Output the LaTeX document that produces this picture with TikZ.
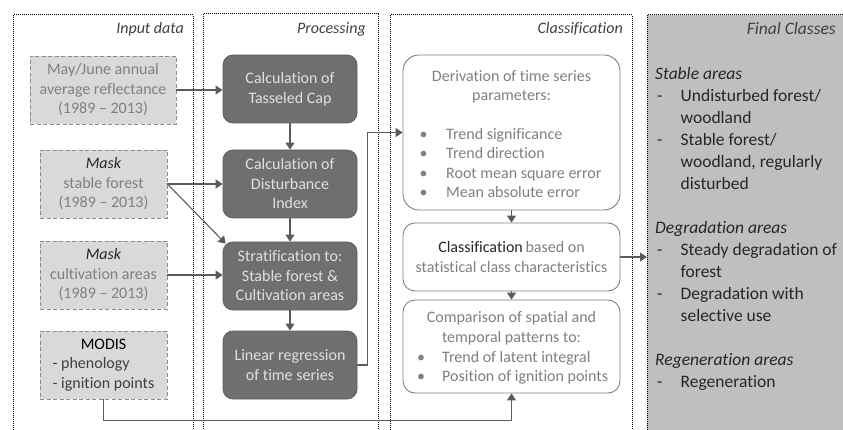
\documentclass[tikz,border=0pt]{standalone}
\usepackage{fontspec}
\setmainfont{Carlito}[Ligatures=NoCommon]
\usetikzlibrary{arrows.meta,calc}
\definecolor{inpfill}{HTML}{D9D9D9}
\definecolor{inpline}{HTML}{8C8C8C}
\definecolor{procfill}{HTML}{6F6F6F}
\definecolor{procdraw}{HTML}{5E5E5E}
\definecolor{proctext}{HTML}{E0E0E0}
\definecolor{greytext}{HTML}{808080}
\definecolor{darktext}{HTML}{262626}
\definecolor{midtext}{HTML}{404040}
\definecolor{conncol}{HTML}{5B5B5B}
\definecolor{finalfill}{HTML}{BFBFBF}
\definecolor{boxline}{HTML}{808080}
\newcommand\mainfs{\fontsize{16}{19.5}\selectfont}
\newcommand\finalfs{\fontsize{17.5}{22}\selectfont}
\begin{document}
\begin{tikzpicture}[x=1pt,y=-1pt,
  panel/.style={draw=black, line width=1pt, dash pattern=on 1pt off 1pt},
  inbox/.style={draw=inpline, fill=inpfill, line width=0.9pt, dash pattern=on 4pt off 2.5pt,
    minimum height=68pt, inner sep=0pt, align=center, text=greytext, font=\mainfs},
  procbox/.style={draw=procdraw, fill=procfill, line width=0.8pt, rounded corners=10pt,
    minimum width=134pt, minimum height=68pt, inner sep=0pt, align=center, text=proctext, font=\mainfs},
  clbox/.style={draw=boxline, fill=white, line width=0.9pt, minimum width=217pt, inner sep=0pt,
    align=center, text=greytext, font=\mainfs},
  ctext/.style={inner sep=0pt, align=center, text=greytext, font=\mainfs},
  plabel/.style={inner sep=0pt, anchor=east, text=midtext, font=\mainfs\itshape},
  conn/.style={draw=conncol, line width=1.1pt, -{Triangle[length=7pt,width=9pt]}}
]
\useasboundingbox (0,0) rectangle (843,430);
\clip (0,0) rectangle (843,430);

% panels
\draw[panel] (13,15) rectangle (193,445);
\draw[panel] (203,14) rectangle (378,445);
\draw[panel] (390,15) rectangle (632,445);
\draw[panel, fill=finalfill] (647,15) rectangle (870,445);

\node[plabel] (l1) at (184,29) {Input data};
\node[plabel] (l2) at (366,29) {Processing};
\node[plabel] (l3) at (623,29) {Classification};
\node[plabel, font=\finalfs\itshape] (l4) at (836,28) {Final Classes};

% input boxes
\node[inbox, minimum width=146pt] (b1) at (103,90) {May/June annual\\average reflectance\\(1989 – 2013)};
\node[inbox, minimum width=127pt] (b2) at (103.5,184) {{\color{darktext}\itshape Mask}\\stable forest\\(1989 – 2013)};
\node[inbox, minimum width=127pt] (b3) at (103.5,275) {{\color{darktext}\itshape Mask}\\cultivation areas\\(1989 – 2013)};
\node[inbox, minimum width=127pt] (b4) at (103.5,365) {\begin{tabular}{@{}l@{}}\multicolumn{1}{c}{\color{black}MODIS}\\\color{midtext}- phenology\\\color{midtext}- ignition points\end{tabular}};

% processing boxes
\node[procbox] (p1) at (290,89) {Calculation of\\Tasseled Cap};
\node[procbox] (p2) at (290,184) {Calculation of\\Disturbance\\Index};
\node[procbox] (p3) at (290,276) {Stratification to:\\Stable forest \&\\Cultivation areas};
\node[procbox] (p4) at (290,365) {Linear regression\\of time series};

% classification boxes
\node[clbox, minimum height=155pt, rounded corners=16pt] (c1) at (511.5,132.5) {};
\node[ctext] (c1t) at (511.5,87) {Derivation of time series\\parameters:};
\node[ctext, anchor=west, align=left] (c1l) at (419.5,164.5) {\begin{tabular}{@{}p{26.5pt}@{}l@{}}•&Trend significance\\•&Trend direction\\•&Root mean square error\\•&Mean absolute error\end{tabular}};

\node[clbox, minimum height=68pt, rounded corners=12pt] (c2) at (511.5,257) {{\color{darktext}Classification}\,based on\\statistical class characteristics};

\node[clbox, minimum height=93pt, rounded corners=12pt] (c3) at (511.5,346.5) {};
\node[ctext] (c3t) at (511.5,328) {Comparison of spatial and\\temporal patterns to:};
\node[ctext, anchor=west, align=left] (c3l) at (417,368) {\begin{tabular}{@{}p{25pt}@{}l@{}}•&Trend of latent integral\\•&Position of ignition points\end{tabular}};

% final classes text
\node[inner sep=0pt, anchor=west, text=darktext, font=\finalfs, align=left] (fc) at (655,229)
{\begin{tabular}{@{}p{25.5pt}@{}l@{}}
\multicolumn{2}{@{}l}{\itshape Stable areas}\\
\hspace{2pt}-&Undisturbed forest/\\
&woodland\\
\hspace{2pt}-&Stable forest/\\
&woodland, regularly\\
&disturbed\\
&\\
\multicolumn{2}{@{}l}{\itshape Degradation areas}\\
\hspace{2pt}-&Steady degradation of\\
&forest\\
\hspace{2pt}-&Degradation with\\
&selective use\\
&\\
\multicolumn{2}{@{}l}{\itshape Regeneration areas}\\
\hspace{2pt}-&Regeneration
\end{tabular}};

% connectors
\coordinate (fin) at (647,257);
\draw[conn] (b1.east) -- (p1.west |- b1.east);
\draw[conn] (b2.east) -- (p2.west |- b2.east);
\draw[conn] (b2.east) -- ($(p3.north west)+(3,2)$);
\draw[conn] (b3.east) -- (p3.west |- b3.east);
\draw[conn] (p1.south) -- (p2.north);
\draw[conn] (p2.south) -- (p3.north);
\draw[conn] (p3.south) -- (p4.north);
\draw[conn] (p4.east) -- ++(10,0) |- (c1.west);
\draw[conn] (c1.south) -- (c2.north);
\draw[conn] (c2.south) -- (c3.north);
\draw[conn] (c2.east) -- (fin);
\draw[conn] (b4.south) -- ++(0,21) -| (c3.south);
\end{tikzpicture}
\end{document}
